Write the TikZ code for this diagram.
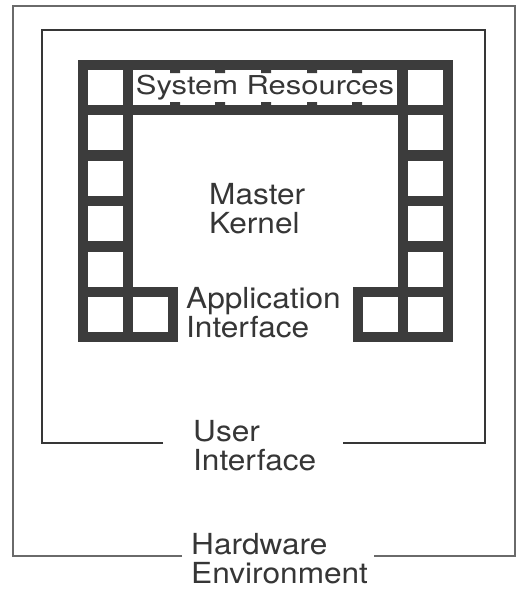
\documentclass[tikz,border=0pt]{standalone}
\usepackage{fontspec}
\setmainfont{TeX Gyre Heros}[FakeStretch=1.09]
\newfontfamily\srfont{TeX Gyre Heros}[FakeStretch=1.19]
\usepackage{tikz}

\definecolor{framegray}{HTML}{3C3C3C}
\definecolor{textgray}{HTML}{363636}
\definecolor{linegray}{HTML}{6A6A6A}

\tikzset{
    cell/.style={draw=framegray, line width=10pt, fill=white, minimum size=45pt, inner sep=0pt},
    lbl/.style={text=textgray, align=left, inner sep=0pt, anchor=base west,
        font=\fontsize{29}{29}\selectfont},
}

\begin{document}
\begin{tikzpicture}[x=1pt, y=-1pt]
    \fill[white] (0,0) rectangle (519,590);
    \useasboundingbox (0,0) rectangle (519,590);

    % layers
    \draw[linegray, line width=1.3pt] (182,556) -- (13,556) -- (13,6) -- (515,6) -- (515,556) -- (374,556);
    \draw[textgray, line width=1.9pt] (163,443) -- (42,443) -- (42,30) -- (485,30) -- (485,443) -- (343,443);

    % Nodes
    \node (l1) at (105.5, 87.5)[cell] {};
    \node (l2) at (105.5,132.9)[cell] {};
    \node (l3) at (105.5,178.3)[cell] {};
    \node (l4) at (105.5,223.7)[cell] {};
    \node (l5) at (105.5,269.1)[cell] {};
    \node (l6) at (105.5,314.5)[cell] {};
    \node (l7) at (150.5,314.5)[cell] {};
    \node (r1) at (425, 87.5)[cell] {};
    \node (r2) at (425,132.9)[cell] {};
    \node (r3) at (425,178.3)[cell] {};
    \node (r4) at (425,223.7)[cell] {};
    \node (r5) at (425,269.1)[cell] {};
    \node (r6) at (425,314.5)[cell] {};
    \node (r7) at (380,314.5)[cell] {};
    \node (sr) at (265,87.5)[cell, minimum width=274pt, text=textgray,
        font=\srfont\fontsize{26}{26}\selectfont] {System Resources};

    % ticks
    \fill[framegray]
        (170,70) rectangle (180,73) (215,70) rectangle (225,73)
        (261,70) rectangle (271,73) (307,70) rectangle (317,73)
        (352,70) rectangle (362,73)
        (170,102) rectangle (180,105) (215,102) rectangle (225,105)
        (261,102) rectangle (271,105) (307,102) rectangle (317,105)
        (352,102) rectangle (362,105);

    % labels
    \node (kernel) at (209,233)[lbl] {Master\\Kernel};
    \node (api) at (186,337)[lbl] {Application\\Interface};
    \node (ui) at (193,470)[lbl] {User\\Interface};
    \node (hw) at (191,583)[lbl] {Hardware\\Environment};

\end{tikzpicture}
\end{document}
